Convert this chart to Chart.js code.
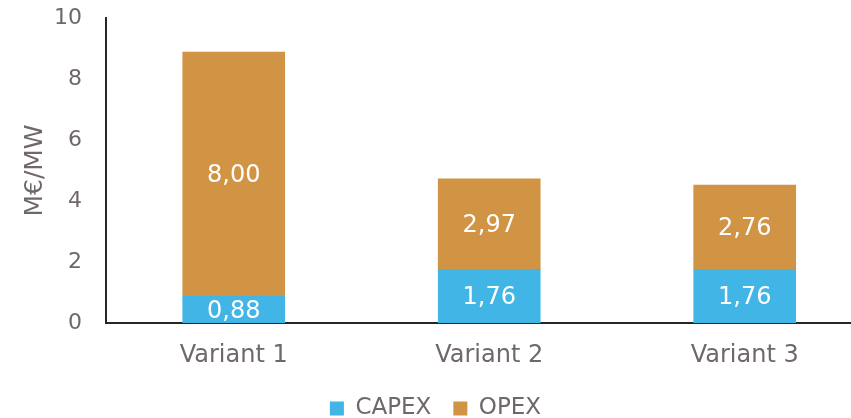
<!DOCTYPE html>
<html>
<head>
<meta charset="utf-8">
<script src="https://cdn.jsdelivr.net/npm/chart.js@4.4.1/dist/chart.umd.min.js"></script>
<style>
html,body{margin:0;padding:0;background:#fff;}
#wrap{width:851px;height:418px;position:relative;}
</style>
</head>
<body>
<div id="wrap"><canvas id="c" width="851" height="418"></canvas></div>
<script>
const categories = ['Variant 1', 'Variant 2', 'Variant 3'];
const capex = [0.88, 1.76, 1.76];
const opex = [8.00, 2.97, 2.76];
const yTicks = [0, 2, 4, 6, 8, 10];

const FONT = "'DejaVu Sans', Verdana, sans-serif";
const TXT = '#706868';
const AXIS = '#262626';

const labelPlugin = {
  id: 'barLabels',
  afterDatasetsDraw(chart) {
    const ctx = chart.ctx;
    ctx.save();
    ctx.fillStyle = '#ffffff';
    ctx.font = '24px ' + FONT;
    ctx.textAlign = 'center';
    ctx.textBaseline = 'middle';
    chart.data.datasets.forEach((ds, di) => {
      const meta = chart.getDatasetMeta(di);
      meta.data.forEach((el, i) => {
        const v = ds.data[i].y;
        const txt = v.toFixed(2).replace('.', ',');
        ctx.fillText(txt, el.x, (el.y + el.base) / 2 + 2);
      });
    });
    ctx.restore();
  }
};

new Chart(document.getElementById('c'), {
  type: 'bar',
  data: {
    datasets: [
      { label: 'CAPEX', data: categories.map((c, i) => ({ x: i, y: capex[i] })), backgroundColor: '#41b5e5', barThickness: 102 },
      { label: 'OPEX', data: categories.map((c, i) => ({ x: i, y: opex[i] })), backgroundColor: '#d09444', barThickness: 102 }
    ]
  },
  options: {
    responsive: false,
    animation: false,
    events: [],
    layout: { padding: { top: 18, left: 20, right: 0, bottom: -12 } },
    plugins: {
      legend: {
        position: 'bottom',
        labels: { boxWidth: 14, boxHeight: 14, font: { family: FONT, size: 23 }, color: TXT, padding: 22 }
      },
      tooltip: { enabled: false }
    },
    scales: {
      x: {
        type: 'linear',
        stacked: true,
        offset: false,
        bounds: 'ticks',
        min: -0.5,
        max: 2.416,
        grid: { display: false, drawTicks: false },
        border: { display: true, color: AXIS, width: 2 },
        afterBuildTicks(scale) { scale.ticks = categories.map((c, i) => ({ value: i })); },
        afterFit(scale) { scale.height = 52; scale.paddingLeft = 0; scale.paddingRight = 0; },
        ticks: {
          callback: (v) => categories[v] ?? '',
          font: { family: FONT, size: 24 }, color: TXT, padding: 18, maxRotation: 0, autoSkip: false
        }
      },
      y: {
        stacked: true,
        min: 0,
        max: 10,
        afterBuildTicks(scale) { scale.ticks = yTicks.map(v => ({ value: v })); },
        afterFit(scale) { scale.width = 86; scale.paddingTop = 0; scale.paddingBottom = 0; },
        grid: { display: false, drawTicks: false },
        border: { display: true, color: AXIS, width: 2 },
        title: { display: true, text: 'M€/MW', font: { family: FONT, size: 25 }, color: TXT, padding: { top: 0, bottom: 0 } },
        ticks: { font: { family: FONT, size: 22 }, color: TXT, padding: 24 }
      }
    }
  },
  plugins: [labelPlugin]
});
</script>
</body>
</html>
